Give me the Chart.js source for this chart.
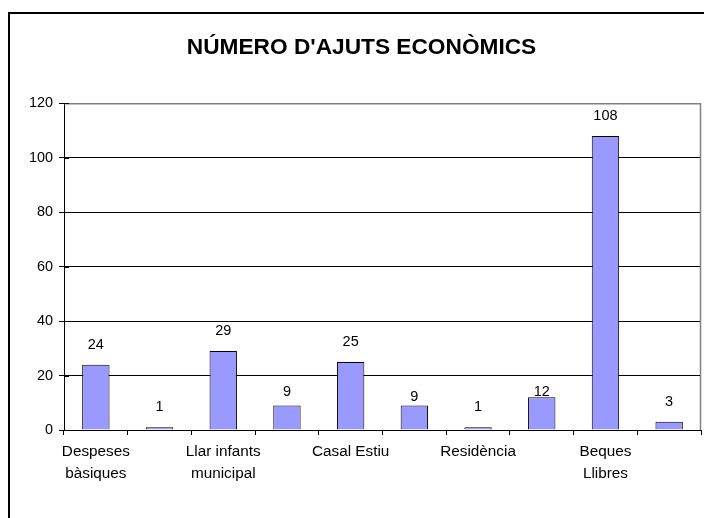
<!DOCTYPE html>
<html>
<head>
<meta charset="utf-8">
<script src="https://cdn.jsdelivr.net/npm/chart.js@4"></script>
<style>
html,body{margin:0;padding:0;background:#fff;}
#wrap{width:704px;height:518px;}
</style>
</head>
<body>
<div id="wrap"><canvas id="c" width="704" height="518"></canvas></div>
<script>
const chartTitle = "NÚMERO D'AJUTS ECONÒMICS";
const categories = [["Despeses", "bàsiques"], "", ["Llar infants", "municipal"], "", "Casal Estiu", "", "Residència", "", ["Beques", "Llibres"], ""];
const values = [24, 1, 29, 9, 25, 9, 1, 12, 108, 3];
const yTicks = [0, 20, 40, 60, 80, 100, 120];

const FONT = "'Liberation Sans', Arial, sans-serif";

const frame = {
  id: 'frame',
  beforeDraw(chart) {
    const ctx = chart.ctx;
    ctx.save();
    ctx.fillStyle = '#fff';
    ctx.fillRect(0, 0, chart.width, chart.height);
    ctx.strokeStyle = '#000';
    ctx.lineWidth = 2;
    ctx.strokeRect(9, 13, 800, 700);
    ctx.restore();
  },
  beforeDatasetsDraw(chart) {
    const a = chart.chartArea, ctx = chart.ctx;
    ctx.save();
    ctx.strokeStyle = '#808080';
    ctx.lineWidth = 1.5;
    ctx.beginPath();
    ctx.moveTo(a.left, a.top + 0.5);
    ctx.lineTo(a.right - 0.5, a.top + 0.5);
    ctx.lineTo(a.right - 0.5, a.bottom);
    ctx.stroke();
    // y tick marks crossing the axis
    ctx.strokeStyle = '#000';
    ctx.lineWidth = 1;
    const ys = chart.scales.y;
    ys.ticks.forEach(t => {
      const py = Math.round(ys.getPixelForValue(t.value)) + 0.5;
      ctx.beginPath();
      ctx.moveTo(a.left, py);
      ctx.lineTo(a.left + 5, py);
      ctx.stroke();
    });
    ctx.restore();
  }
};

const valueLabels = {
  id: 'valueLabels',
  afterDatasetsDraw(chart, args, opts) {
    const ctx = chart.ctx;
    const meta = chart.getDatasetMeta(0);
    const offs = opts.offsets || [];
    ctx.save();
    ctx.fillStyle = '#000';
    ctx.font = '14.5px ' + FONT;
    ctx.textAlign = 'center';
    ctx.textBaseline = 'middle';
    meta.data.forEach((bar, i) => {
      const off = offs[i] !== undefined ? offs[i] : 20;
      ctx.fillText(String(values[i]), bar.x, bar.y - off);
    });
    ctx.restore();
  }
};

new Chart(document.getElementById('c'), {
  type: 'bar',
  data: {
    labels: categories,
    datasets: [{
      data: values,
      backgroundColor: '#9999FF',
      borderColor: '#000',
      borderWidth: 1,
      barPercentage: 0.43,
      categoryPercentage: 1
    }]
  },
  options: {
    responsive: false,
    animation: false,
    devicePixelRatio: 1,
    layout: { padding: { left: 22, right: 3, top: 0, bottom: 0 } },
    plugins: {
      legend: { display: false },
      tooltip: { enabled: false },
      valueLabels: { offsets: [20, 20, 20, 13.5, 20, 8.5, 20, 5, 20, 20] },
      title: {
        display: true,
        text: chartTitle,
        color: '#000',
        font: { family: FONT, size: 22.7, weight: 'bold', lineHeight: 1.2 },
        padding: { top: 34, bottom: 42 }
      }
    },
    scales: {
      x: {
        grid: { display: true, drawOnChartArea: false, drawTicks: true, tickLength: 5, color: '#000', offset: true },
        border: { display: true, color: '#000', width: 1 },
        ticks: {
          color: '#000',
          font: { family: FONT, size: 15.3, lineHeight: '22px' },
          autoSkip: false,
          maxRotation: 0,
          minRotation: 0,
          padding: 6
        },
        afterFit(s) { s.height = 88; }
      },
      y: {
        min: 0,
        max: 120,
        afterBuildTicks(s) { s.ticks = yTicks.map(v => ({ value: v })); },
        grid: { color: '#000', lineWidth: 1, tickLength: 5, drawTicks: true },
        border: { display: true, color: '#000', width: 1 },
        ticks: {
          color: '#000',
          font: { family: FONT, size: 14.4 },
          padding: 6
        },
        afterFit(s) { s.width = 42; }
      }
    }
  },
  plugins: [frame, valueLabels]
});
</script>
</body>
</html>
